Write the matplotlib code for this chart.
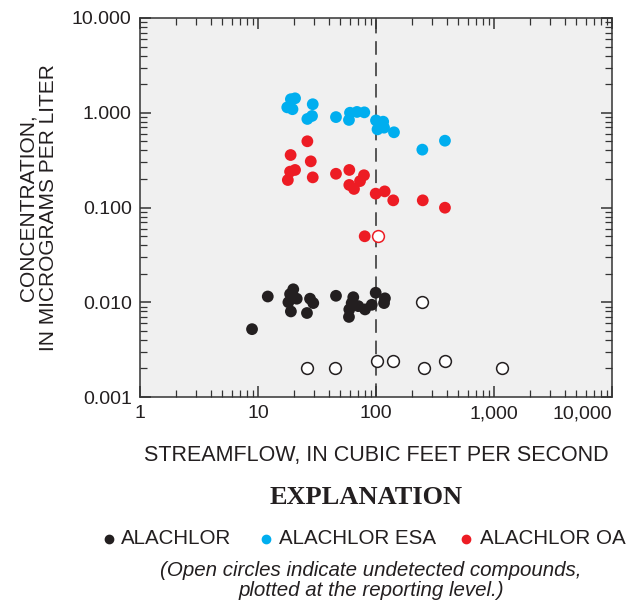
import matplotlib
matplotlib.use("Agg")
import matplotlib.pyplot as plt
from matplotlib.lines import Line2D
from matplotlib.ticker import FixedLocator, FixedFormatter, LogLocator, NullFormatter

plt.rcParams['font.family'] = ['Liberation Sans', 'DejaVu Sans']

# ---- data (streamflow cfs, concentration ug/L) ----
alachlor_x = [8.9, 12.1, 19.9, 18.7, 21.3, 18.1, 19.0, 27.6, 29.4, 26.0, 45.8,
              64.2, 62.2, 59.4, 59.0, 70.8, 80.7, 92.0, 99.4, 119, 117]
alachlor_y = [0.0052, 0.0115, 0.0137, 0.0122, 0.0109, 0.0100, 0.0080, 0.0109, 0.0098,
              0.0077, 0.0117, 0.0113, 0.0098, 0.0084, 0.0070, 0.0091, 0.0084, 0.0094,
              0.0126, 0.0110, 0.0098]
alachlor_nd_x = [247, 26.0, 44.7, 102.6, 139, 254, 382, 1162]
alachlor_nd_y = [0.0100, 0.0020, 0.0020, 0.0024, 0.0024, 0.0020, 0.0024, 0.0020]

esa_x = [19.0, 20.6, 17.7, 19.6, 29.1, 26.2, 28.7, 45.8, 60.2, 59.0, 69.0, 79.6,
         100, 115, 103, 117, 142, 247, 384]
esa_y = [1.39, 1.42, 1.14, 1.09, 1.23, 0.86, 0.925, 0.90, 1.00, 0.84, 1.02, 1.01,
         0.83, 0.805, 0.668, 0.696, 0.622, 0.408, 0.507]

oa_x = [26.2, 18.9, 28.0, 20.6, 18.7, 17.9, 29.1, 45.8, 59.4, 79.1, 73.2, 59.4,
        65.1, 99.4, 118.5, 140, 249, 384, 80.2]
oa_y = [0.500, 0.358, 0.307, 0.249, 0.239, 0.195, 0.208, 0.227, 0.249, 0.219, 0.190,
        0.173, 0.157, 0.140, 0.148, 0.119, 0.119, 0.0995, 0.0497]
oa_nd_x = [103]
oa_nd_y = [0.0497]

ref_flow = 100

xticks = [1, 10, 100, 1000, 10000]
xticklabels = ['1', '10', '100', '1,000', '10,000']
yticks = [0.001, 0.01, 0.1, 1, 10]
yticklabels = ['0.001', '0.010', '0.100', '1.000', '10.000']

legend_labels = ['ALACHLOR', 'ALACHLOR ESA', 'ALACHLOR OA']

BLACK = '#231f20'
BLUE = '#00aeef'
RED = '#ed1c24'

fig = plt.figure(figsize=(6.36, 6.04), dpi=100)
ax = fig.add_axes([140/636, 1-397/604, 472/636, 379/604])
ax.set_facecolor('#f0f0f0')
ax.set_xscale('log')
ax.set_yscale('log')
ax.set_xlim(1, 10000)
ax.set_ylim(0.001, 10)

ax.axvline(ref_flow, color='#555555', lw=1.4, dashes=(7, 4), zorder=1)

s = 72
ax.scatter(alachlor_x, alachlor_y, s=s, color=BLACK, edgecolors='none', zorder=3)
ax.scatter(esa_x, esa_y, s=s, color=BLUE, edgecolors='none', zorder=3)
ax.scatter(oa_x, oa_y, s=s, color=RED, edgecolors='none', zorder=3)
ax.scatter(alachlor_nd_x, alachlor_nd_y, s=s, facecolors='white', edgecolors=BLACK,
           linewidths=1.1, zorder=3)
ax.scatter(oa_nd_x, oa_nd_y, s=s, facecolors='white', edgecolors=RED,
           linewidths=1.1, zorder=3)

ax.xaxis.set_major_locator(FixedLocator(xticks))
ax.xaxis.set_major_formatter(FixedFormatter(xticklabels))
ax.yaxis.set_major_locator(FixedLocator(yticks))
ax.yaxis.set_major_formatter(FixedFormatter(yticklabels))
ax.xaxis.set_minor_locator(LogLocator(base=10, subs=range(2, 10), numticks=20))
ax.yaxis.set_minor_locator(LogLocator(base=10, subs=range(2, 10), numticks=20))
ax.xaxis.set_minor_formatter(NullFormatter())
ax.yaxis.set_minor_formatter(NullFormatter())
ax.tick_params(which='both', direction='in', top=True, right=True, color='#333333')
ax.tick_params(which='major', length=8, width=1.1, labelsize=14, pad=6,
               labelcolor=BLACK)
ax.tick_params(which='minor', length=5, width=0.9)
for sp in ax.spines.values():
    sp.set_color('#333333')
    sp.set_linewidth(1.1)

# last x tick label right-aligned to the frame edge, as in the original
ax.xaxis.get_major_ticks()[-1].label1.set_horizontalalignment('right')

ax.set_xlabel('STREAMFLOW, IN CUBIC FEET PER SECOND', fontsize=15.5, labelpad=16,
              color=BLACK)
ax.set_ylabel('CONCENTRATION,\nIN MICROGRAMS PER LITER', fontsize=15, labelpad=10,
              linespacing=1.1, color=BLACK)

fig.text(366/636, 1-498/604, 'EXPLANATION', family='Liberation Serif', weight='bold',
         fontsize=19, ha='center', va='center', color=BLACK)

# explanation row (manually placed markers + labels)
legend_colors = [BLACK, BLUE, RED]
dot_x = [109, 266, 466]
text_x = [121, 279, 480]
row_y = 1 - 539/604
for c, dx, tx, lab in zip(legend_colors, dot_x, text_x, legend_labels):
    fig.add_artist(Line2D([dx/636], [row_y], transform=fig.transFigure, marker='o',
                          ls='none', color=c, markersize=6))
    fig.text(tx/636, row_y, lab, fontsize=14.8, ha='left', va='center', color=BLACK)

fig.text(371/636, 1-571/604, '(Open circles indicate undetected compounds,',
         style='italic', fontsize=14.8, ha='center', va='center', color=BLACK)
fig.text(371/636, 1-591/604, 'plotted at the reporting level.)',
         style='italic', fontsize=14.8, ha='center', va='center', color=BLACK)

fig.savefig('out.png', dpi=100)
